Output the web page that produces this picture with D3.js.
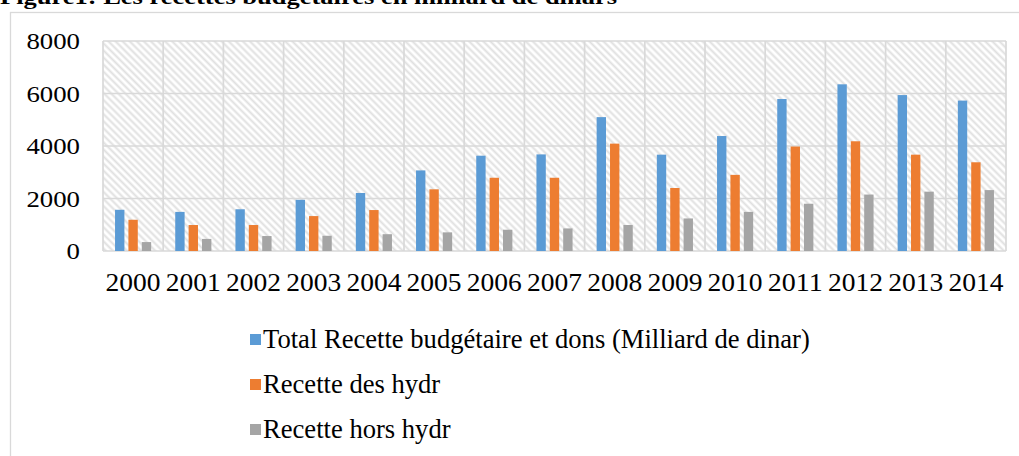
<!DOCTYPE html>
<html>
<head>
<meta charset="utf-8">
<script src="https://cdn.jsdelivr.net/npm/d3@7"></script>
<style>
  body { margin: 0; background: #fff; }
  svg text { font-family: "Liberation Serif", "Times New Roman", serif; fill: #000; }
</style>
</head>
<body>
<div id="chart"></div>
<script>
// data (milliard de dinars)
const years = ["2000", "2001", "2002", "2003", "2004", "2005", "2006", "2007",
               "2008", "2009", "2010", "2011", "2012", "2013", "2014"];
const totalRecettes = [1570, 1490, 1590, 1950, 2210, 3070, 3630, 3680, 5100, 3670, 4380, 5790, 6350, 5940, 5730];
const recettesHydr = [1190, 990, 990, 1330, 1560, 2350, 2790, 2790, 4090, 2400, 2900, 3980, 4180, 3670, 3380];
const recettesHorsHydr = [340, 460, 570, 580, 640, 710, 810, 860, 990, 1240, 1490, 1800, 2150, 2260, 2320];
const seriesNames = ["Total Recette budgétaire et dons (Milliard de dinar)", "Recette des hydr", "Recette hors hydr"];
const seriesColors = ["#5b9bd5", "#ed7d31", "#a5a5a5"];
const yTicks = [0, 2000, 4000, 6000, 8000];
const titleText = "Figure1: Les recettes budgétaires en milliard de dinars";

const W = 1019, H = 456;
const plot = { left: 103, right: 1006, top: 41, bottom: 251 };
const grid = "#d9d9d9";

const svg = d3.select("#chart").append("svg")
    .attr("width", W).attr("height", H);

// hatch pattern for the plot area
const defs = svg.append("defs");
defs.append("pattern")
    .attr("id", "hatch")
    .attr("patternUnits", "userSpaceOnUse")
    .attr("width", 5).attr("height", 5)
    .attr("patternTransform", "rotate(45)")
    .call(p => {
        p.append("rect").attr("width", 5).attr("height", 5).attr("fill", "#fff");
        p.append("line").attr("x1", 0).attr("x2", 5).attr("y1", 2.5).attr("y2", 2.5)
            .attr("stroke", "#e0e0e0").attr("stroke-width", 2);
    });

// title (cut at the top edge like the source)
svg.append("text")
    .attr("x", 0).attr("y", 4)
    .attr("font-size", "22px").attr("font-weight", "bold")
    .attr("textLength", 617).attr("lengthAdjust", "spacingAndGlyphs")
    .text(titleText);

// chart frame
svg.append("rect")
    .attr("x", 10.5).attr("y", 12.5)
    .attr("width", W + 20).attr("height", H + 20)
    .attr("fill", "none").attr("stroke", grid).attr("stroke-width", 1.3);

// scales
const x0 = d3.scaleBand().domain(years).range([plot.left, plot.right]).padding(0);
const groupW = x0.bandwidth() * 0.6;
const x1 = d3.scaleBand().domain(d3.range(3)).range([0, groupW]).paddingInner(0.3).paddingOuter(0);
const y = d3.scaleLinear().domain([0, 8000]).range([plot.bottom, plot.top]);

// plot background
svg.append("rect")
    .attr("x", plot.left).attr("y", plot.top)
    .attr("width", plot.right - plot.left).attr("height", plot.bottom - plot.top)
    .attr("fill", "url(#hatch)");

// horizontal gridlines
svg.append("g").selectAll("line")
    .data(yTicks)
    .enter().append("line")
    .attr("x1", plot.left).attr("x2", plot.right)
    .attr("y1", d => y(d)).attr("y2", d => y(d))
    .attr("stroke", grid).attr("stroke-width", 1.7);

// vertical separators between categories
const bounds = years.map(d => x0(d)).concat([plot.right]);
svg.append("g").selectAll("line")
    .data(bounds)
    .enter().append("line")
    .attr("x1", d => d).attr("x2", d => d)
    .attr("y1", plot.top).attr("y2", plot.bottom)
    .attr("stroke", grid).attr("stroke-width", 1.7);

// bars
const series = [totalRecettes, recettesHydr, recettesHorsHydr];
series.forEach((vals, si) => {
    svg.append("g").selectAll("rect")
        .data(vals)
        .enter().append("rect")
        .attr("x", (d, i) => x0(years[i]) + (x0.bandwidth() - groupW) / 2 + x1(si))
        .attr("width", x1.bandwidth())
        .attr("y", d => y(d))
        .attr("height", d => y(0) - y(d))
        .attr("fill", seriesColors[si]);
});

// y axis labels
const yAxis = svg.append("g")
    .attr("transform", "translate(" + plot.left + ",0)")
    .call(d3.axisLeft(y).tickValues(yTicks).tickSize(0).tickPadding(23).tickFormat(d3.format("d")));
yAxis.select(".domain").remove();
yAxis.selectAll("text")
    .attr("font-family", null)
    .attr("font-size", "23px")
    .attr("dy", "0.34em")
    .each(function () {
        d3.select(this).attr("textLength", this.textContent.length * 13.4)
            .attr("lengthAdjust", "spacingAndGlyphs");
    });

// x axis labels
const xAxis = svg.append("g")
    .attr("transform", "translate(0," + plot.bottom + ")")
    .call(d3.axisBottom(x0).tickSize(0).tickPadding(0));
xAxis.select(".domain").remove();
xAxis.selectAll("text")
    .attr("font-family", null)
    .attr("font-size", "26px")
    .attr("y", 40).attr("dy", 0)
    .attr("textLength", 55).attr("lengthAdjust", "spacingAndGlyphs");

// legend
const legend = svg.append("g");
const legendY = [339, 384, 429];
seriesNames.forEach((name, i) => {
    legend.append("rect")
        .attr("x", 250).attr("y", legendY[i] - 5)
        .attr("width", 11).attr("height", 11)
        .attr("fill", seriesColors[i]);
    legend.append("text")
        .attr("x", 263).attr("y", legendY[i] + 9)
        .attr("font-size", "26.6px")
        .text(name);
});
</script>
</body>
</html>
